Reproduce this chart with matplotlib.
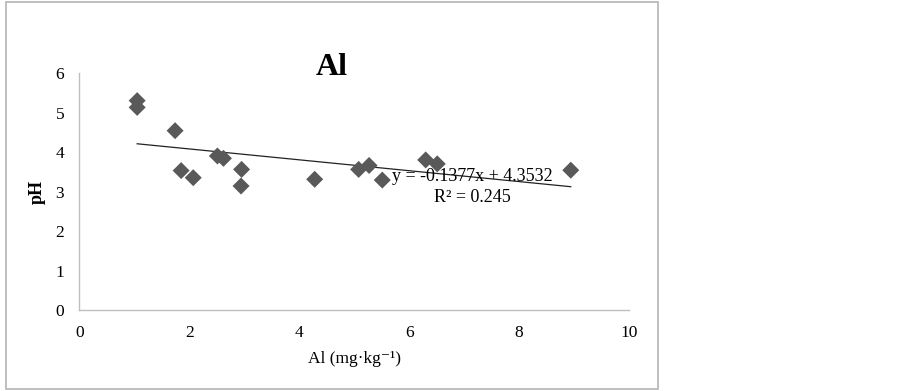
import numpy as np
import matplotlib
matplotlib.use("Agg")
from matplotlib import pyplot as plt
from matplotlib.patches import Rectangle

# Al content (mg/kg) vs soil pH
al = [1.05, 1.05, 1.74, 1.85, 2.07, 2.51, 2.62, 2.95, 2.94, 4.28,
      5.08, 5.27, 5.51, 6.30, 6.51, 8.94]
ph = [5.30, 5.13, 4.54, 3.53, 3.35, 3.90, 3.84, 3.56, 3.14, 3.31,
      3.56, 3.66, 3.29, 3.80, 3.70, 3.54]

# linear trendline as printed on the chart
slope = -0.1377
intercept = 4.3532
r2 = 0.245

xticks = [0, 2, 4, 6, 8, 10]
yticks = [0, 1, 2, 3, 4, 5, 6]

plt.rcParams['font.family'] = ['Liberation Serif', 'DejaVu Serif']

fig = plt.figure(figsize=(9.03, 3.91), dpi=100)
ax = fig.add_axes([0.088, 0.207, 0.6086, 0.6063])

# outer frame of the chart
fig.patches.append(Rectangle((0.0066, 0.005), 0.722, 0.99, transform=fig.transFigure,
                             fill=False, edgecolor='#b4b4b4', linewidth=1.2))

ax.scatter(al, ph, marker='D', s=75, color='#595959', edgecolors='none', zorder=3)

tx = np.array([min(al), max(al)])
ax.plot(tx, slope * tx + intercept, color='#222222', linewidth=0.9, zorder=2)

ax.text(7.15, 3.37, 'y = -0.1377x + 4.3532', ha='center', va='center', fontsize=13)
ax.text(7.15, 2.84, 'R² = %.3f' % r2, ha='center', va='center', fontsize=13)

ax.set_xlim(0, 10)
ax.set_ylim(0, 6)
ax.set_xticks(xticks)
ax.set_yticks(yticks)
ax.tick_params(length=0, labelsize=12.5)
ax.tick_params(axis='x', pad=11)
ax.tick_params(axis='y', pad=11)

for side in ['top', 'right']:
    ax.spines[side].set_visible(False)
for side in ['left', 'bottom']:
    ax.spines[side].set_color('#bfbfbf')
    ax.spines[side].set_linewidth(1.0)

# title sits slightly below the top of the value axis
fig.text(0.3676, 0.808, 'Al', fontsize=23, fontweight='bold', ha='center', va='baseline')
ax.set_xlabel('Al (mg·kg⁻¹)', fontsize=12.5, labelpad=7)
ax.set_ylabel('pH', fontsize=13, fontweight='bold', labelpad=7)

fig.savefig('out.png', dpi=100)
